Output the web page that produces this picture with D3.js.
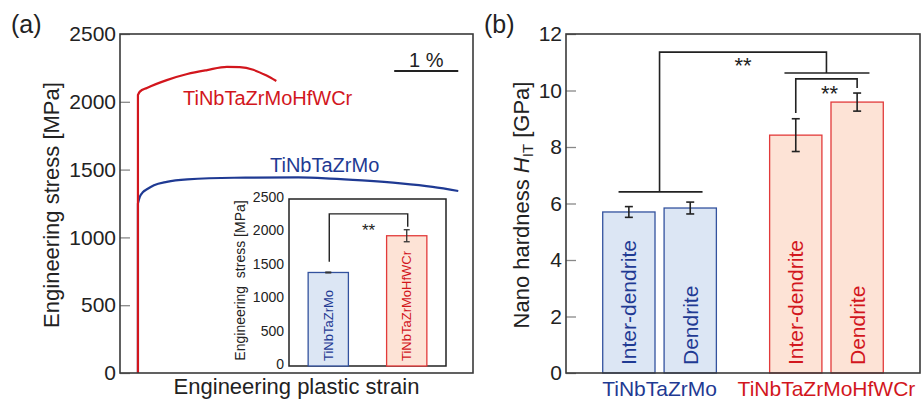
<!DOCTYPE html>
<html><head><meta charset="utf-8">
<script src="https://cdn.jsdelivr.net/npm/d3@7"></script>
<style>body{margin:0;background:#fff}svg{font-family:"Liberation Sans",Arial,sans-serif}</style>
</head><body>
<svg id="c" width="922" height="405"></svg>
<script>
// ---- Data ----
// Panel (a): stress–strain curves (plastic strain in %, stress in MPa); first point = start of elastic line
const strainRed = [0, 0, 0.03, 0.14, 0.45, 0.77, 1.08, 1.39, 1.59, 1.8, 2.0, 2.16];
const stressRed = [0, 2050, 2075, 2102, 2160, 2205, 2234, 2257, 2255, 2236, 2195, 2153];
const strainBlue = [0, 0, 0.03, 0.08, 0.14, 0.25, 0.45, 0.77, 1.5, 2.5, 3.0, 3.5, 4.1, 4.6, 5.0];
const stressBlue = [0, 1250, 1300, 1335, 1355, 1385, 1410, 1428, 1440, 1442, 1434, 1420, 1398, 1372, 1342];
const stressTicks = [0, 500, 1000, 1500, 2000, 2500];
// Inset: yield stress
const alloys = ["TiNbTaZrMo", "TiNbTaZrMoHfWCr"];
const insetStress = [1400, 1950];
const insetErr = [6, 90];
// Panel (b): nano hardness
const regions = ["Inter-dendrite", "Dendrite"];
const hardBlue = [5.70, 5.84];
const hardBlueErr = [0.19, 0.21];
const hardRed = [8.42, 9.59];
const hardRedErr = [0.58, 0.32];
const hardTicks = [0, 2, 4, 6, 8, 10, 12];

const BLUE = "#1f3a93", RED = "#d2161d";
const svg = d3.select("#c");

// ================= Panel (a) =================
const A = {l:120, r:473, t:34, b:373};
const xA = d3.scaleLinear().domain([-0.28, 5.23]).range([A.l, A.r]);
const yA = d3.scaleLinear().domain([0, 2500]).range([A.b, A.t]);
const gA = svg.append("g");
const yAx = gA.append("g").attr("transform", `translate(${A.l},0)`)
  .call(d3.axisLeft(yA).tickValues(stressTicks).tickSize(-10).tickPadding(4).tickFormat(d3.format("d")));
yAx.select(".domain").remove();
yAx.selectAll("line").attr("stroke", "#888").attr("stroke-width", 1.3);
yAx.selectAll("text").attr("font-size", 21).attr("fill","#222").attr("font-family", "Liberation Sans, Arial");

const lin = d3.line().x(d => xA(d[0])).y(d => yA(d[1]));
const smooth = d3.line().x(d => xA(d[0])).y(d => yA(d[1])).curve(d3.curveMonotoneX);
function drawCurve(sx, sy, col) {
  const pts = sx.map((s,i)=>[s, sy[i]]);
  gA.append("path").attr("d", lin(pts.slice(0,2)) + smooth(pts.slice(1)).replace(/^M/, "L"))
    .attr("fill","none").attr("stroke", col).attr("stroke-width", 2.2).attr("stroke-linejoin","round");
}
drawCurve(strainBlue, stressBlue, BLUE);
drawCurve(strainRed, stressRed, RED);

gA.append("rect").attr("x", A.l).attr("y", A.t).attr("width", A.r-A.l).attr("height", A.b-A.t)
  .attr("fill","none").attr("stroke","#3a3a3a").attr("stroke-width",1.6);

gA.append("text").attr("x", 183).attr("y", 105).attr("font-size", 20).attr("fill", RED).text(alloys[1]);
gA.append("text").attr("x", 270).attr("y", 172).attr("font-size", 20).attr("fill", BLUE).text(alloys[0]);
// scale bar 1 %
gA.append("line").attr("x1", xA(4.0)).attr("x2", xA(5.0)).attr("y1", 71).attr("y2", 71)
  .attr("stroke", "#222").attr("stroke-width", 2);
gA.append("text").attr("x", (xA(4.0)+xA(5.0))/2).attr("y", 67).attr("text-anchor","middle")
  .attr("font-size", 20).attr("fill","#222").text("1 %");

gA.append("text").attr("transform", `translate(59,205) rotate(-90)`).attr("text-anchor","middle")
  .attr("font-size", 22).attr("fill","#222").text("Engineering stress [MPa]");
gA.append("text").attr("x", (A.l+A.r)/2).attr("y", 394).attr("text-anchor","middle")
  .attr("font-size", 22).attr("fill","#222").text("Engineering plastic strain");
svg.append("text").attr("x", 11).attr("y", 33).attr("font-size", 25).attr("fill","#222").text("(a)");

// ---- Inset ----
const I = {l:289, r:446, t:199, b:366};
const xI = d3.scaleBand().domain(alloys).range([I.l, I.r]).paddingInner(0.487).paddingOuter(0.244);
const yI = d3.scaleLinear().domain([0, 2500]).range([I.b, I.t]);
const gI = svg.append("g");
gI.append("rect").attr("x", I.l).attr("y", I.t).attr("width", I.r-I.l).attr("height", I.b-I.t)
  .attr("fill","#fff").attr("stroke","#222").attr("stroke-width",1.5);
const yIx = gI.append("g").attr("transform", `translate(${I.l},0)`)
  .call(d3.axisLeft(yI).tickValues(stressTicks).tickSize(0).tickPadding(5).tickFormat(d3.format("d")));
yIx.select(".domain").remove();
yIx.selectAll("text").attr("font-size", 14).attr("fill","#222").attr("font-family", "Liberation Sans, Arial")
  .attr("transform", "translate(0,-2)");
const fills = ["#dce6f4", "#fde3d6"], strokes = ["#33529e", "#e23a3a"], tcol = [BLUE, RED];
alloys.forEach((a, i) => {
  gI.append("rect").attr("x", xI(a)).attr("y", yI(insetStress[i])).attr("width", xI.bandwidth())
    .attr("height", yI(0)-yI(insetStress[i])).attr("fill", fills[i]).attr("stroke", strokes[i]).attr("stroke-width", 1.3);
  const cx = xI(a) + xI.bandwidth()/2;
  const e = gI.append("g").attr("stroke","#333").attr("stroke-width",1.3);
  e.append("line").attr("x1",cx).attr("x2",cx).attr("y1",yI(insetStress[i]-insetErr[i])).attr("y2",yI(insetStress[i]+insetErr[i]));
  [insetErr[i], -insetErr[i]].forEach(d => e.append("line").attr("x1",cx-3).attr("x2",cx+3)
    .attr("y1",yI(insetStress[i]+d)).attr("y2",yI(insetStress[i]+d)));
  gI.append("text").attr("transform", `translate(${cx+4.5},${I.b-5}) rotate(-90)`)
    .attr("font-size", 13).attr("fill", tcol[i]).text(a);
});
{
  const c0 = xI(alloys[0]) + xI.bandwidth()/2 + 1, c1 = xI(alloys[1]) + xI.bandwidth()/2 + 1;
  gI.append("path").attr("d", `M${c0},${yI(1560)}V${yI(2277)}H${c1}V${yI(2083)}`)
    .attr("fill","none").attr("stroke","#222").attr("stroke-width",1.4);
  gI.append("text").attr("x",(c0+c1)/2).attr("y",236).attr("text-anchor","middle").attr("font-size",17).attr("fill","#222").text("**");
}
gI.append("text").attr("transform", `translate(245,${(I.t+I.b)/2 - 2}) rotate(-90)`).attr("text-anchor","middle")
  .attr("font-size", 14).attr("fill","#222").style("white-space","pre").text("Engineering  stress [MPa]");

// ================= Panel (b) =================
const B = {l:566, r:920, t:34, b:373};
const x0 = d3.scaleBand().domain(alloys).range([B.l, B.r]).paddingInner(0.319).paddingOuter(0.22);
const x1 = d3.scaleBand().domain(regions).range([0, x0.bandwidth()]).paddingInner(0.148).paddingOuter(0);
const yB = d3.scaleLinear().domain([0, 12]).range([B.b, B.t]);
const gB = svg.append("g");
const yBx = gB.append("g").attr("transform", `translate(${B.l},0)`)
  .call(d3.axisLeft(yB).tickValues(hardTicks).tickSize(-10).tickPadding(4));
yBx.select(".domain").remove();
yBx.selectAll("line").attr("stroke", "#888").attr("stroke-width", 1.3);
yBx.selectAll("text").attr("font-size", 21).attr("fill","#222").attr("font-family", "Liberation Sans, Arial");

const groups = [{a: alloys[0], v: hardBlue, e: hardBlueErr, k: 0}, {a: alloys[1], v: hardRed, e: hardRedErr, k: 1}];
groups.forEach(g => {
  regions.forEach((r, j) => {
    const x = x0(g.a) + x1(r), w = x1.bandwidth(), v = g.v[j], er = g.e[j], cx = x + w/2;
    gB.append("rect").attr("x", x).attr("y", yB(v)).attr("width", w).attr("height", yB(0)-yB(v))
      .attr("fill", fills[g.k]).attr("stroke", strokes[g.k]).attr("stroke-width", 1.3);
    const e = gB.append("g").attr("stroke","#222").attr("stroke-width",1.6);
    e.append("line").attr("x1",cx).attr("x2",cx).attr("y1",yB(v-er)).attr("y2",yB(v+er));
    [er, -er].forEach(d => e.append("line").attr("x1",cx-4).attr("x2",cx+4).attr("y1",yB(v+d)).attr("y2",yB(v+d)));
    gB.append("text").attr("transform", `translate(${cx+7.5},${B.b-8}) rotate(-90)`)
      .attr("font-size", 21).attr("fill", tcol[g.k]).text(r);
  });
  gB.append("text").attr("x", x0(g.a)+x0.bandwidth()/2).attr("y", 396).attr("text-anchor","middle")
    .attr("font-size", 21).attr("fill", tcol[g.k]).text(g.a);
});
gB.append("rect").attr("x", B.l).attr("y", B.t).attr("width", B.r-B.l).attr("height", B.b-B.t)
  .attr("fill","none").attr("stroke","#3a3a3a").attr("stroke-width",1.6);

// significance brackets
{
  const g1 = x0(alloys[0]) + x0.bandwidth()/2, g2 = x0(alloys[1]) + x0.bandwidth()/2;
  const br = gB.append("g").attr("fill","none").attr("stroke","#222").attr("stroke-width",1.6);
  br.append("path").attr("d", `M${g1-41},${yB(6.41)}H${g1+43}`);
  br.append("path").attr("d", `M${g1},${yB(6.41)}V${yB(11.36)}H${g2}V${yB(10.62)}`);
  br.append("path").attr("d", `M${g2-42},${yB(10.62)}H${g2+43}`);
  const c1 = x0(alloys[1]) + x1(regions[0]) + x1.bandwidth()/2, c2 = x0(alloys[1]) + x1(regions[1]) + x1.bandwidth()/2;
  br.append("path").attr("d", `M${c1},${yB(9.2)}V${yB(10.41)}H${c2}V${yB(10.09)}`);
  gB.append("text").attr("x", 743).attr("y", 73).attr("text-anchor","middle").attr("font-size",22).attr("fill","#222").text("**");
  gB.append("text").attr("x", (c1+c2)/2+3).attr("y", 101).attr("text-anchor","middle").attr("font-size",22).attr("fill","#222").text("**");
}
{
  const t = gB.append("text").attr("transform", `translate(529,205) rotate(-90)`).attr("text-anchor","middle")
    .attr("font-size", 22).attr("fill","#222");
  t.append("tspan").text("Nano hardness ");
  t.append("tspan").attr("font-style","italic").text("H");
  t.append("tspan").attr("font-size", 15).attr("dy", 4).text("IT");
  t.append("tspan").attr("dy", -4).text(" [GPa]");
}
svg.append("text").attr("x", 484).attr("y", 33).attr("font-size", 25).attr("fill","#222").text("(b)");
</script>
</body></html>
